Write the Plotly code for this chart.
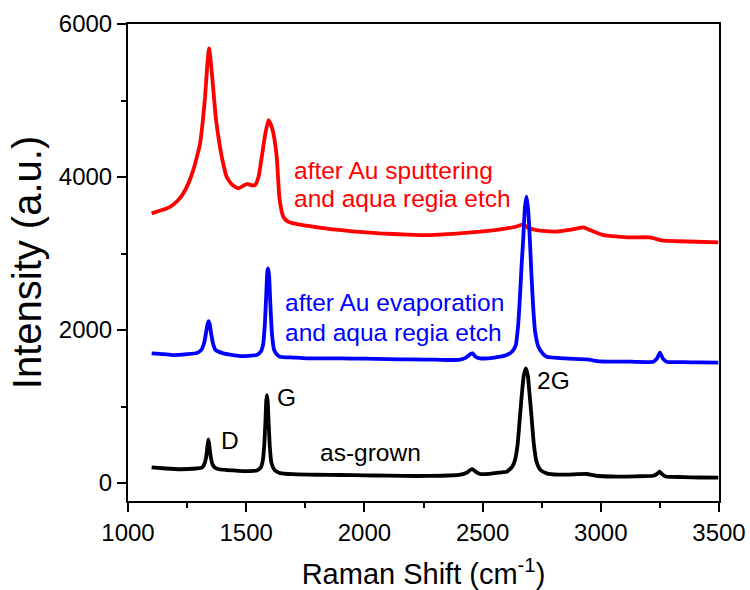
import plotly.graph_objects as go

# Raman spectra (Raman shift in cm^-1, intensity in a.u.)
asgrown_x = [1100, 1160, 1220, 1290, 1312, 1322, 1330, 1336, 1340, 1344, 1350, 1358, 1368, 1385,
             1417, 1470, 1516, 1545, 1561, 1570, 1576, 1581, 1585, 1588, 1591, 1595, 1600, 1607,
             1620, 1643, 1700, 1800, 1900, 2000, 2100, 2221, 2330, 2400, 2430, 2450, 2458, 2470,
             2489, 2530, 2580, 2602, 2625, 2637, 2648, 2658, 2666, 2674, 2683, 2691, 2699, 2707,
             2717, 2728, 2745, 2771, 2820, 2900, 2940, 2980, 3050, 3150, 3222, 3238, 3248, 3258,
             3275, 3350, 3420, 3497]
asgrown_y = [205, 190, 180, 190, 200, 240, 330, 480, 571, 490, 340, 240, 200, 180,
             170, 160, 155, 165, 200, 290, 480, 780, 1080, 1150, 1060, 780, 470, 260,
             170, 130, 115, 108, 105, 100, 97, 92, 95, 105, 130, 175, 180, 150,
             118, 120, 140, 148, 210, 301, 500, 867, 1160, 1400, 1499, 1410, 1150, 867,
             500, 279, 170, 127, 110, 115, 118, 95, 85, 88, 95, 120, 148, 120,
             85, 78, 72, 70]

evap_x = [1100, 1150, 1192, 1250, 1291, 1310, 1322, 1330, 1336, 1341, 1346, 1352, 1360, 1370,
          1403, 1474, 1544, 1562, 1572, 1579, 1585, 1590, 1593, 1597, 1602, 1609, 1618, 1630,
          1643, 1700, 1756, 1900, 2000, 2100, 2200, 2300, 2400, 2430, 2450, 2458, 2470, 2489,
          2550, 2602, 2625, 2640, 2650, 2658, 2665, 2672, 2679, 2686, 2693, 2700, 2707, 2714,
          2722, 2736, 2755, 2771, 2850, 2940, 2997, 3100, 3222, 3238, 3250, 3262, 3278, 3350,
          3420, 3497]
evap_y = [1695, 1685, 1673, 1685, 1700, 1740, 1830, 1960, 2070, 2117, 2070, 1950, 1820, 1740,
          1695, 1660, 1673, 1720, 1820, 2080, 2480, 2780, 2806, 2700, 2350, 1950, 1740, 1680,
          1651, 1640, 1630, 1628, 1625, 1620, 1615, 1612, 1610, 1640, 1690, 1695, 1650, 1630,
          1640, 1673, 1720, 1800, 2050, 2435, 2850, 3200, 3600, 3742, 3560, 3176, 2700, 2300,
          1980, 1782, 1690, 1651, 1628, 1617, 1590, 1588, 1586, 1630, 1703, 1630, 1586, 1580,
          1576, 1573]

sputter_x = [1100, 1140, 1178, 1210, 1234, 1256, 1276, 1292, 1305, 1316, 1326, 1335, 1343, 1352,
             1361, 1372, 1389, 1403, 1417, 1440, 1467, 1490, 1505, 1520, 1537, 1552, 1566, 1580,
             1594, 1605, 1615, 1629, 1635, 1640, 1648, 1657, 1675, 1699, 1740, 1784, 1855, 1950,
             2066, 2180, 2277, 2390, 2489, 2560, 2602, 2640, 2672, 2690, 2728, 2813, 2870, 2926,
             2960, 3011, 3070, 3123, 3208, 3240, 3264, 3330, 3405, 3497]
sputter_y = [3525, 3565, 3611, 3690, 3786, 3920, 4091, 4270, 4440, 4720, 5049, 5450, 5681, 5450,
             5136, 4760, 4396, 4170, 4003, 3900, 3852, 3890, 3910, 3895, 3895, 4000, 4265, 4550,
             4744, 4680, 4570, 4265, 3980, 3742, 3580, 3481, 3420, 3394, 3370, 3351, 3320, 3290,
             3263, 3248, 3241, 3260, 3285, 3310, 3329, 3350, 3380, 3340, 3307, 3285, 3310, 3342,
             3300, 3241, 3222, 3211, 3211, 3185, 3167, 3160, 3154, 3146]

x_ticks = [1000, 1500, 2000, 2500, 3000, 3500]
y_ticks = [0, 2000, 4000, 6000]

FONT = "Arial, Liberation Sans, sans-serif"
LW = 3.8

fig = go.Figure()
for xs, ys, col in [(sputter_x, sputter_y, "#FF0000"),
                    (evap_x, evap_y, "#0000FF"),
                    (asgrown_x, asgrown_y, "#000000")]:
    fig.add_trace(go.Scatter(x=xs, y=ys, mode="lines",
                             line=dict(color=col, width=LW, shape="spline", smoothing=0.5)))

labels = [
    (1694, 4091, "after Au sputtering", "#FF0000"),
    (1694, 3725, "and aqua regia etch", "#FF0000"),
    (1656, 2366, "after Au evaporation", "#0000FF"),
    (1656, 1974, "and aqua regia etch", "#0000FF"),
    (1385, 562, "D", "#000000"),
    (1622, 1124, "G", "#000000"),
    (2722, 1346, "2G", "#000000"),
    (1804, 405, "as-grown", "#000000"),
]
for lx, ly, txt, col in labels:
    fig.add_annotation(x=lx, y=ly, text=txt, showarrow=False, xanchor="left",
                       yanchor="middle", font=dict(family=FONT, size=24.5, color=col))

axis_common = dict(showline=True, linecolor="black", linewidth=2, mirror=True,
                   ticks="outside", ticklen=9, tickwidth=2, tickcolor="black",
                   showgrid=False, zeroline=False, automargin=False,
                   tickfont=dict(family=FONT, size=24, color="black"))

fig.update_xaxes(range=[1000, 3500], tickvals=x_ticks,
                 minor=dict(dtick=250, ticklen=5, tickwidth=2, tickcolor="black", ticks="outside"),
                 title=dict(text="Raman Shift (cm<sup>-1</sup>)",
                            font=dict(family=FONT, size=29, color="black"), standoff=20),
                 **axis_common)
fig.update_yaxes(range=[-235, 6000], tickvals=y_ticks,
                 minor=dict(dtick=1000, ticklen=5, tickwidth=2, tickcolor="black", ticks="outside"),
                 title=dict(text="Intensity (a.u.)",
                            font=dict(family=FONT, size=40, color="black"), standoff=5),
                 **axis_common)

fig.update_layout(width=750, height=590, showlegend=False,
                  margin=dict(l=128, r=31, t=24, b=89),
                  paper_bgcolor="white", plot_bgcolor="white")

fig.write_html("out.html")
